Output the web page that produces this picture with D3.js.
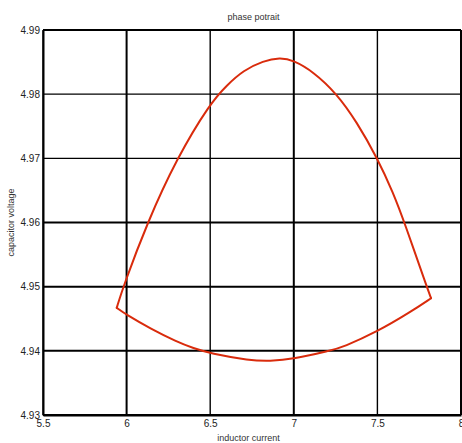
<!DOCTYPE html>
<html>
<head>
<meta charset="utf-8">
<script src="https://cdn.jsdelivr.net/npm/d3@7"></script>
<style>
  body { margin: 0; background: #fff; }
  svg { display: block; font-family: "Liberation Sans", Arial, sans-serif; }
</style>
</head>
<body>
<svg width="462" height="443"></svg>
<script>
const upperCurrent = [5.941, 5.980, 6.124, 6.300, 6.500, 6.600, 6.698, 6.818, 6.917, 6.997, 7.117, 7.256, 7.376, 7.500, 7.595, 7.662, 7.795, 7.821];
const upperVoltage = [4.9467, 4.9500, 4.9600, 4.9700, 4.9786, 4.9814, 4.9837, 4.9852, 4.9857, 4.9853, 4.9835, 4.9801, 4.9757, 4.9700, 4.9646, 4.9600, 4.9500, 4.9482];
const lowerCurrent = [5.941, 6.000, 6.140, 6.300, 6.400, 6.500, 6.736, 6.856, 6.997, 7.215, 7.296, 7.500, 7.695, 7.821];
const lowerVoltage = [4.9467, 4.9456, 4.9435, 4.9414, 4.9404, 4.9396, 4.9385, 4.9384, 4.9387, 4.9400, 4.9406, 4.9430, 4.9460, 4.9482];
const xTicks = [5.5, 6, 6.5, 7, 7.5, 8];
const yTicks = [4.93, 4.94, 4.95, 4.96, 4.97, 4.98, 4.99];

const margin = { top: 30, right: 1, bottom: 28, left: 43 };
const width = 462, height = 443;

const svg = d3.select('svg');

const x = d3.scaleLinear().domain([5.5, 8]).range([margin.left, width - margin.right]);
const y = d3.scaleLinear().domain([4.93, 4.99]).range([height - margin.bottom, margin.top]);

// grid
svg.append('g')
  .selectAll('line')
  .data(xTicks)
  .join('line')
  .attr('x1', d => x(d)).attr('x2', d => x(d))
  .attr('y1', margin.top).attr('y2', height - margin.bottom)
  .attr('stroke', '#000')
  .attr('stroke-width', (d, i) => i % 2 ? 2 : 1.4);

svg.append('g')
  .selectAll('line')
  .data(yTicks)
  .join('line')
  .attr('x1', margin.left).attr('x2', width - margin.right)
  .attr('y1', d => y(d)).attr('y2', d => y(d))
  .attr('stroke', '#000')
  .attr('stroke-width', (d, i) => (i === 4 || i === 5) ? 1.4 : 2);

// axes
const xAxis = svg.append('g')
  .attr('transform', `translate(0,${height - margin.bottom})`)
  .call(d3.axisBottom(x).tickValues(xTicks).tickSize(0).tickPadding(5).tickFormat(d3.format('')));
const yAxis = svg.append('g')
  .attr('transform', `translate(${margin.left},0)`)
  .call(d3.axisLeft(y).tickValues(yTicks).tickSize(0).tickPadding(3).tickFormat(d3.format('.2f')));

[xAxis, yAxis].forEach(a => {
  a.select('.domain').attr('stroke', '#000').attr('stroke-width', 2);
  a.selectAll('text').attr('font-size', 10).attr('fill', '#222').attr('font-family', '"Liberation Sans", Arial, sans-serif');
});

// curves
const lineGen = (xs, ys) => d3.line()
  .x((d, i) => x(xs[i]))
  .y((d, i) => y(ys[i]))
  .curve(d3.curveBasis)(xs);

svg.append('g')
  .attr('fill', 'none')
  .attr('stroke', '#d92b0c')
  .attr('stroke-width', 2)
  .attr('stroke-linecap', 'round')
  .selectAll('path')
  .data([[upperCurrent, upperVoltage], [lowerCurrent, lowerVoltage]])
  .join('path')
  .attr('d', d => lineGen(d[0], d[1]));

// labels
svg.append('text')
  .attr('x', (margin.left + width) / 2 + 1)
  .attr('y', 20)
  .attr('text-anchor', 'middle')
  .attr('font-size', 9)
  .attr('fill', '#333')
  .text('phase potrait');

svg.append('text')
  .attr('x', (margin.left + width) / 2 - 4)
  .attr('y', 441)
  .attr('text-anchor', 'middle')
  .attr('font-size', 9)
  .attr('fill', '#333')
  .text('inductor current');

svg.append('text')
  .attr('transform', `translate(14,${(margin.top + height - margin.bottom) / 2}) rotate(-90)`)
  .attr('text-anchor', 'middle')
  .attr('font-size', 9)
  .attr('fill', '#333')
  .text('capacitor voltage');
</script>
</body>
</html>
